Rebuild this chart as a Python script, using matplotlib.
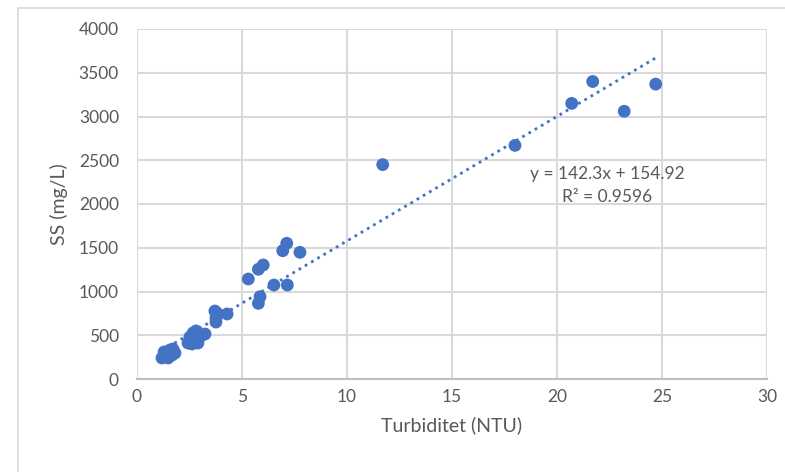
"""Scatter of suspended solids against turbidity with a linear trendline."""
import matplotlib.pyplot as plt
import numpy as np
from matplotlib.patches import Rectangle

plt.rcParams['font.family'] = ['Lato', 'DejaVu Sans']

# Turbidity (NTU) and suspended solids (mg/L) samples
turbidity = [1.19, 1.33, 1.43, 1.57, 1.71, 1.67, 1.81, 1.48, 1.29,
             2.43, 2.52, 2.67, 2.81, 2.76, 2.95, 3.10, 3.24, 2.62, 2.90,
             3.71, 3.81, 3.76, 3.76, 4.29,
             5.30, 5.78, 6.01, 5.86, 5.78, 6.52, 7.16, 6.94, 7.13, 7.76,
             11.7, 18.0, 20.7, 21.7, 23.2, 24.7]
ss = [240, 263, 297, 331, 343, 274, 297, 240, 309,
      411, 480, 526, 549, 446, 469, 503, 514, 400, 411,
      777, 754, 697, 651, 743,
      1143, 1254, 1303, 941, 865, 1074, 1074, 1466, 1551, 1448,
      2450, 2670, 3150, 3400, 3060, 3370]

slope, intercept, r2 = 142.3, 154.92, 0.9596

blue = "#4472C4"
grey_text = "#595959"

fig = plt.figure(figsize=(7.85, 4.72), dpi=100)
fig.patches.append(Rectangle((18 / 785, -0.1), 1.1, 1.0 - 8 / 472 + 0.1,
                             transform=fig.transFigure, fill=False,
                             edgecolor="#D9D9D9", linewidth=1.2))
ax = fig.add_axes([137 / 785, 1 - 379 / 472, 630 / 785, 350 / 472])

# Trendline over the sampled range
x_fit = np.array([min(turbidity), max(turbidity)])
ax.plot(x_fit, slope * x_fit + intercept, linestyle=(0, (1, 1.6)),
        color=blue, linewidth=2, zorder=2)
ax.scatter(turbidity, ss, s=85, color=blue, edgecolors="none", zorder=3)

ax.text(22.4, 2343, f"y = {slope}x + {intercept}", ha="center", va="center",
        fontsize=12.5, color=grey_text)
ax.text(22.4, 2080, f"R² = {r2}", ha="center", va="center",
        fontsize=12.5, color=grey_text)

ax.set_xlim(0, 30)
ax.set_ylim(0, 4000)
ax.set_xticks(range(0, 31, 5))
ax.set_yticks(range(0, 4001, 500))
ax.grid(True, color="#D9D9D9", linewidth=1.5)
ax.set_axisbelow(True)
for side in ("top", "right", "left"):
    ax.spines[side].set_visible(False)
ax.spines["bottom"].set_color("#BFBFBF")
ax.spines["bottom"].set_linewidth(1.5)
ax.tick_params(length=0, labelsize=12.5, labelcolor=grey_text)
ax.tick_params(axis="y", pad=13)
ax.tick_params(axis="x", pad=7)

ax.set_xlabel("Turbiditet (NTU)", fontsize=14, color=grey_text, labelpad=8)
ax.set_ylabel("SS (mg/L)", fontsize=14, color=grey_text, labelpad=8)

fig.savefig("out.png", dpi=100)
